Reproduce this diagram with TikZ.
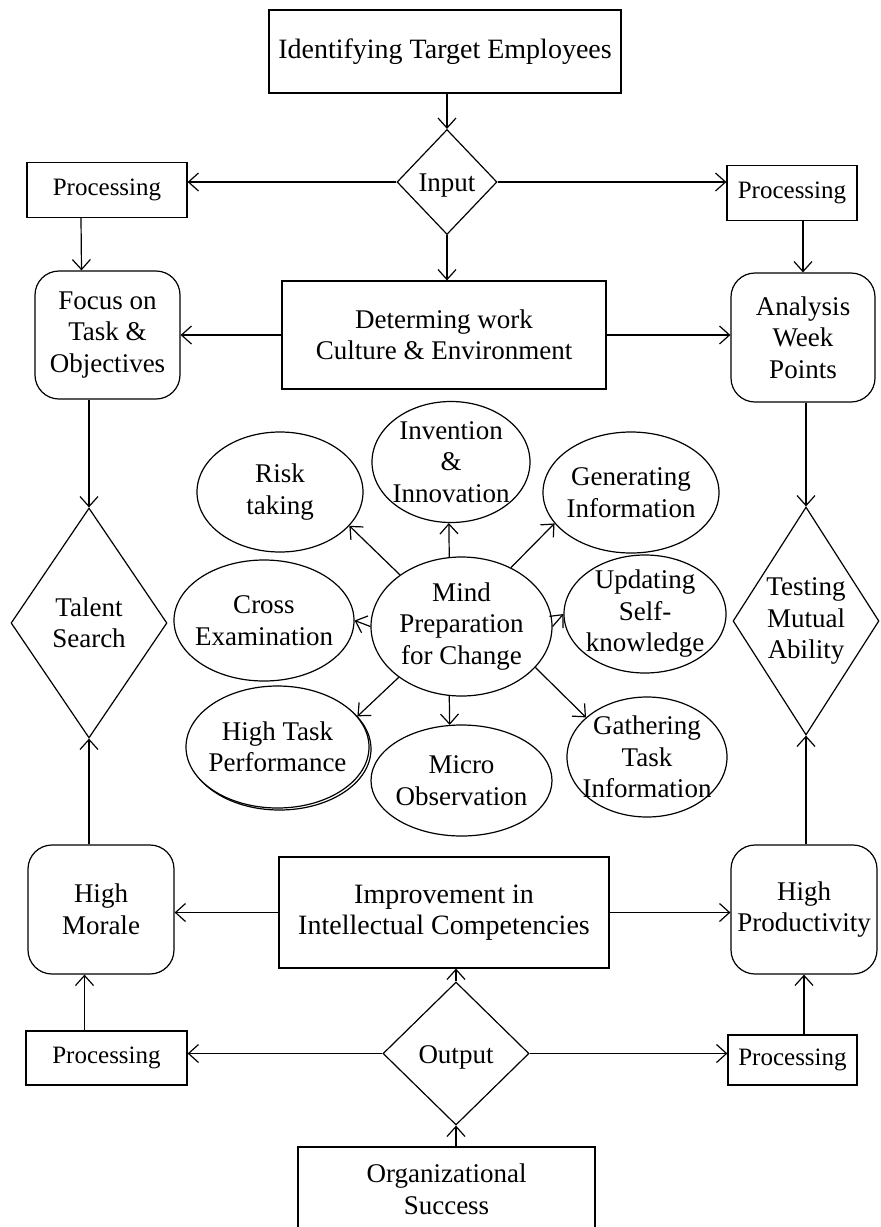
\documentclass[tikz,border=0pt]{standalone}
\usepackage{fontspec}
\setmainfont{Liberation Serif}
\usetikzlibrary{arrows.meta, shapes.geometric, shadows}

\tikzset{
  box/.style={rectangle, draw, inner sep=0pt, align=center},
  rbox/.style={rectangle, draw, rounded corners=12pt, inner sep=0pt, align=center},
  decision/.style={diamond, draw, inner sep=0pt},
  idea/.style={ellipse, draw, fill=white, inner sep=0pt},
  txt/.style={align=center, inner sep=0pt},
  proc/.style={box, font=\fontsize{12.5}{14.5}\selectfont},
  big/.style={font=\fontsize{14}{15.75}\selectfont},
}

\begin{document}
\begin{tikzpicture}[x=0.5pt, y=-0.5pt, line width=0.6pt,
    >={Straight Barb[length=5pt,width=9pt]},
    font=\fontsize{13.5}{15.75}\selectfont]
  \useasboundingbox (0,0) rectangle (880,1227);
  \clip (0,0) rectangle (880,1227);

  % input side
  \node[box, big, minimum width=176pt, minimum height=41.5pt] (top) at (445,51.5) {Identifying Target Employees};
  \node[decision, minimum width=50pt, minimum height=52.5pt, label={[txt, yshift=-2pt]center:Input}] (input) at (447,182) {};
  \node[proc, minimum width=80pt, minimum height=27.5pt] (procL) at (107,190) {Processing};
  \node[proc, minimum width=65pt, minimum height=27.5pt] (procR) at (792,193) {Processing};

  \node[rbox, minimum width=72.5pt, minimum height=64pt] (focus) at (107.5,335) {Focus on\\Task \&\\Objectives};
  \node[box, minimum width=162pt, minimum height=54pt] (determ) at (444,335) {Determing work\\Culture \& Environment};
  \node[rbox, minimum width=72pt, minimum height=64.5pt] (analysis) at (803,337.5) {Analysis\\Week\\Points};

  \node[decision, minimum width=78pt, minimum height=115pt, label={[txt]center:Talent\\Search}] (talent) at (89,623) {};
  \node[decision, minimum width=73pt, minimum height=114pt, label={[txt]center:Testing\\Mutual\\Ability}] (testing) at (806,621) {};

  % mind map
  \node[idea, minimum width=90.5pt, minimum height=69.5pt, label={[txt]center:Mind\\Preparation\\for Change}] (mind) at (461.5,626.5) {};
  \node[idea, minimum width=79pt, minimum height=60.5pt, label={[txt]center:Invention\\\&\\Innovation}] (invent) at (451,462) {};
  \node[idea, minimum width=83pt, minimum height=60pt, label={[txt]center:Risk\\taking}] (risk) at (280,492) {};
  \node[idea, minimum width=88pt, minimum height=60.5pt, label={[txt]center:Generating\\Information}] (gener) at (631,492.5) {};
  \node[idea, minimum width=90pt, minimum height=60.5pt, label={[txt]center:Cross\\Examination}] (cross) at (264,620.5) {};
  \node[idea, minimum width=81pt, minimum height=59pt, label={[txt]center:Updating\\Self-\\knowledge}] (update) at (645,614) {};
  \node[idea, minimum width=91.5pt, minimum height=61pt, copy shadow={shadow xshift=1pt, shadow yshift=-1pt},
        label={[txt]center:High Task\\Performance}] (hightask) at (277.5,747) {};
  \node[idea, minimum width=90.5pt, minimum height=55.5pt, label={[txt]center:Micro\\Observation}] (micro) at (461.5,780.5) {};
  \node[idea, minimum width=80pt, minimum height=60pt, label={[txt]center:Gathering\\Task\\Information}] (gather) at (647,757) {};

  % output side
  \node[rbox, minimum width=73pt, minimum height=64.5pt] (morale) at (101,909.5) {High\\Morale};
  \node[box, big, minimum width=165pt, minimum height=55.5pt] (improv) at (444,912.5) {Improvement in\\Intellectual Competencies};
  \node[rbox, minimum width=73pt, minimum height=64.5pt] (prod) at (804,909.5) {High\\Productivity};

  \node[decision, minimum width=73pt, minimum height=71.5pt, label={[txt, yshift=-2pt]center:Output}] (output) at (456,1053.5) {};
  \node[proc, minimum width=80.5pt, minimum height=27pt] (procLb) at (106.5,1058) {Processing};
  \node[proc, minimum width=64.5pt, minimum height=25pt] (procRb) at (792.5,1060) {Processing};
  \node[box, minimum width=148.5pt, minimum height=42pt] (org) at (446.5,1189) {Organizational\\Success};

  % connectors
  \draw[->] (input.north |- top.south) -- (input.north);
  \draw[->] (input.west) -- (input.west -| procL.east);
  \draw[->] (input.east) -- (input.east -| procR.west);
  \draw[->] (input.south) -- (input.south |- determ.north);
  \draw[->] ([xshift=-13pt]procL.south) -- ([xshift=-13pt]focus.north);
  \draw[->] (procR.south -| analysis.north) -- (analysis.north);
  \draw[->] (determ.west) -- (determ.west -| focus.east);
  \draw[->] (determ.east) -- (determ.east -| analysis.west);
  \draw[->] (talent.north |- focus.south) -- (talent.north);
  \draw[->] (testing.north |- analysis.south) -- (testing.north);

  \draw[->] (mind.140) -- (risk.334);
  \draw[->] (mind.100) -- (invent.268);
  \draw[->] (mind.50) -- (gener.202);
  \draw[->] (mind.180) -- (cross.0);
  \draw[->] (mind.0) -- (update.180);
  \draw[->] (mind.219) -- (hightask.21);
  \draw[->] (mind.260) -- (micro.102);
  \draw[->] (mind.331) -- (gather.147);

  \draw[->] (talent.south |- morale.north) -- (talent.south);
  \draw[->] (testing.south |- prod.north) -- (testing.south);
  \draw[->] (improv.west) -- (improv.west -| morale.east);
  \draw[->] (improv.east) -- (improv.east -| prod.west);
  \draw[->] (output.north) -- (output.north |- improv.south);
  \draw[->] (output.west) -- (output.west -| procLb.east);
  \draw[->] (output.east) -- (output.east -| procRb.west);
  \draw[->] ([xshift=-11pt]procLb.north) -- ([xshift=-11pt]procLb.north |- morale.south);
  \draw[->] (prod.south |- procRb.north) -- (prod.south);
  \draw[->] (output.south |- org.north) -- (output.south);
\end{tikzpicture}
\end{document}
